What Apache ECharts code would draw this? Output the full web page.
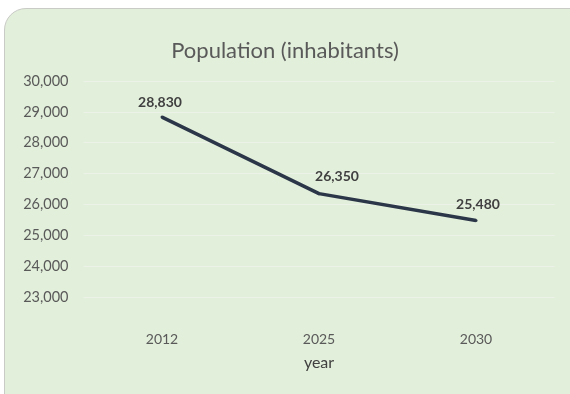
<!DOCTYPE html>
<html><head><meta charset="utf-8">
<script src="https://cdn.jsdelivr.net/npm/echarts@6/dist/echarts.min.js"></script>
<style>
html,body{margin:0;padding:0;background:#fff;width:570px;height:394px;overflow:hidden;}
#card{position:absolute;left:4px;top:8px;width:600px;height:420px;background:#e2efda;border:1px solid #c9cbc7;border-top-left-radius:22px;}
#chart{position:absolute;left:0;top:0;width:570px;height:394px;}
</style></head>
<body>
<div id="card"></div>
<div id="chart"></div>
<script>
const categories = ['2012', '2025', '2030'];
const population = [28830, 26350, 25480];
const yTicks = [23000, 24000, 25000, 26000, 27000, 28000, 29000, 30000];

const fmt = v => v.toLocaleString('en-US');
const labelOffsets = [[-2, 0], [18, -3], [2, -1]];

const chart = echarts.init(document.getElementById('chart'), null, {renderer: 'canvas'});
chart.setOption({
  backgroundColor: 'transparent',
  animation: false,
  title: {
    text: 'Population (inhabitants)',
    left: 'center', top: 35,
    textStyle: {fontFamily: 'Lato', fontSize: 22, fontWeight: 'normal', color: '#595959'}
  },
  grid: {left: 83.5, right: 15.5, top: 81, bottom: 97},
  xAxis: {
    type: 'category',
    data: categories,
    boundaryGap: true,
    name: 'year',
    nameLocation: 'middle',
    nameGap: 58,
    nameTextStyle: {fontFamily: 'Lato', fontSize: 16, color: '#404040'},
    axisLine: {show: false},
    axisTick: {show: false},
    axisLabel: {margin: 35, fontFamily: 'Lato', fontSize: 14, color: '#595959'}
  },
  yAxis: {
    type: 'value',
    min: yTicks[0], max: yTicks[yTicks.length - 1], interval: 1000,
    axisLine: {show: false},
    axisTick: {show: false},
    splitLine: {lineStyle: {color: '#ecf2e7', width: 1}},
    axisLabel: {margin: 15, fontFamily: 'Lato', fontSize: 14.5, color: '#595959', formatter: v => fmt(v)}
  },
  series: [{
    type: 'line',
    data: population.map((v, i) => ({value: v, label: {show: true, offset: labelOffsets[i]}})),
    symbol: 'circle',
    symbolSize: 3,
    showSymbol: true,
    itemStyle: {color: '#2b3648'},
    lineStyle: {color: '#2b3648', width: 3.5},
    label: {
      show: true, position: 'top', distance: 6,
      fontFamily: 'Lato', fontSize: 14, fontWeight: 'bold', color: '#404040',
      formatter: p => fmt(p.value)
    }
  }]
});
</script>
</body></html>
